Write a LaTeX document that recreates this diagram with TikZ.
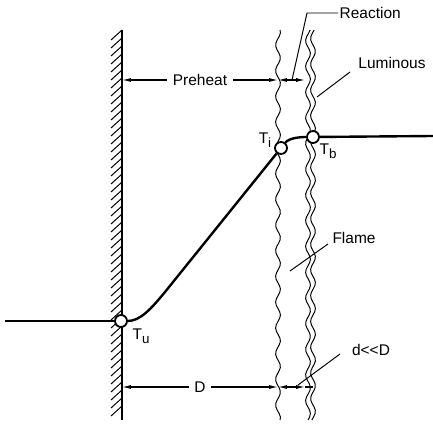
\documentclass[tikz,border=0pt]{standalone}
\usepackage{fontspec}
\setmainfont{Liberation Sans}
\usetikzlibrary{arrows.meta}
\newcommand\tsub[1]{T\raisebox{-0.55ex}{\fontsize{9.5}{10}\selectfont #1}}
\tikzset{
  pt/.style={circle,draw,fill=white,line width=1.3pt,inner sep=0pt,minimum size=0.3cm},
  lbl/.style={font=\fontsize{11}{13}\selectfont,inner sep=1pt},
  curve/.style={line width=1.7pt},
  dim/.style={line width=0.8pt,{Latex[length=2.2mm,width=1mm]}-{Latex[length=2.2mm,width=1mm]}},
  lead/.style={line width=0.7pt},
  wave/.style={line width=0.7pt},
}
\begin{document}
\begin{tikzpicture}[x=0.025cm,y=-0.025cm]
  \useasboundingbox (0,0) rectangle (433,427);
  % wall with hatching
  \draw[line width=1.4pt] (122,30) -- (122,420);
  \foreach \y in {40,48,...,420}
    \draw[line width=0.7pt] (111,\y) -- (122,\y-10);
  % flame zone boundaries
  \foreach \xo/\ph in {278/0,308/60,313/90}
    \draw[wave] plot[smooth,variable=\t,domain=30:420,samples=120] ({\xo+2.4*sin(14*\t+\ph)},\t);
  % temperature profile
  \node[pt] (Tu) at (121,321) {};
  \node[pt] (Ti) at (281,148) {};
  \node[pt] (Tb) at (313,137) {};
  \coordinate (lft) at (5,321);
  \coordinate (rgt) at (433,136);
  \draw[curve] (lft) -- (Tu);
  \draw[curve] (Tu) .. controls (140,321) and (151,309) .. (165,292) -- (Ti);
  \draw[curve] (Ti) .. controls (289,138) and (300,137) .. (Tb);
  \draw[curve] (Tb) -- (rgt);
  \node[lbl] at (141,336) {\tsub{u}};
  \node[lbl] at (265,140) {\tsub{i}};
  \node[lbl] at (328,151) {\tsub{b}};
  % zone widths
  \coordinate (w1) at (122,80);
  \coordinate (a1) at (278,80);
  \coordinate (b1) at (305,80);
  \draw[dim] (w1) -- node[lbl,fill=white,inner sep=4pt] {Preheat} (a1);
  \draw[dim] (a1) -- (b1);
  \coordinate (w2) at (122,387);
  \coordinate (a2) at (278,387);
  \coordinate (b2) at (305,387);
  \coordinate (c2) at (313,387);
  \draw[dim] (w2) -- node[lbl,fill=white,inner sep=4pt] {D} (a2);
  \draw[dim] (a2) -- (b2);
  \draw[line width=0.8pt] (b2) -- (c2);
  % labels with leaders
  \node[lbl,anchor=west] (reac) at (338,13) {Reaction};
  \coordinate (reacpt) at (292,80);
  \draw[lead] (reac.west) -- (307,13) -- (reacpt);
  \node[lbl] (lum) at (392,63) {Luminous};
  \coordinate (lumpt) at (317,97);
  \draw[lead] (350,72) -- (lumpt);
  \node[lbl] (flame) at (354,238) {Flame};
  \coordinate (flamept) at (290,271);
  \draw[lead] (328,244) -- (flamept);
  \node[lbl] (dD) at (371,350) {d<\kern0pt<D};
  \coordinate (dDpt) at (298,385);
  \draw[lead] (340,354) -- (dDpt);
\end{tikzpicture}
\end{document}
